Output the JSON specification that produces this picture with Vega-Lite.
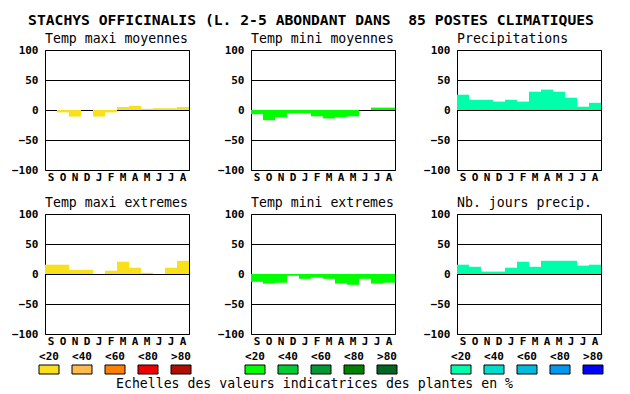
{
  "$schema": "https://vega.github.io/schema/vega-lite/v6.json",
  "padding": {"left": 11, "top": 12, "right": 5, "bottom": 4},
  "background": "white",
  "title": {"text": "STACHYS OFFICINALIS (L. 2-5 ABONDANT DANS\u00a0 85 POSTES CLIMATIQUES", "fontSize": 14.7, "fontWeight": "bold", "anchor": "middle", "frame": "bounds", "offset": 4, "dx": 1},
  "datasets": {
    "bars": [
      {"panel": "A", "month": "Sep", "value": 0}, {"panel": "A", "month": "Oct", "value": -4}, {"panel": "A", "month": "Nov", "value": -11}, {"panel": "A", "month": "Dec", "value": 0}, {"panel": "A", "month": "Jan", "value": -11}, {"panel": "A", "month": "Fev", "value": -4}, {"panel": "A", "month": "Mar", "value": 5}, {"panel": "A", "month": "Avr", "value": 7}, {"panel": "A", "month": "Mai", "value": 2}, {"panel": "A", "month": "Jun", "value": 3}, {"panel": "A", "month": "Jul", "value": 3}, {"panel": "A", "month": "Aou", "value": 5},
      {"panel": "B", "month": "Sep", "value": -7}, {"panel": "B", "month": "Oct", "value": -17}, {"panel": "B", "month": "Nov", "value": -12}, {"panel": "B", "month": "Dec", "value": -5.5}, {"panel": "B", "month": "Jan", "value": -5.5}, {"panel": "B", "month": "Fev", "value": -10.5}, {"panel": "B", "month": "Mar", "value": -14}, {"panel": "B", "month": "Avr", "value": -12}, {"panel": "B", "month": "Mai", "value": -10.5}, {"panel": "B", "month": "Jun", "value": 0}, {"panel": "B", "month": "Jul", "value": 4}, {"panel": "B", "month": "Aou", "value": 4},
      {"panel": "C", "month": "Sep", "value": 25.5}, {"panel": "C", "month": "Oct", "value": 17}, {"panel": "C", "month": "Nov", "value": 17}, {"panel": "C", "month": "Dec", "value": 14}, {"panel": "C", "month": "Jan", "value": 17}, {"panel": "C", "month": "Fev", "value": 14}, {"panel": "C", "month": "Mar", "value": 30.5}, {"panel": "C", "month": "Avr", "value": 34}, {"panel": "C", "month": "Mai", "value": 30.5}, {"panel": "C", "month": "Jun", "value": 20.5}, {"panel": "C", "month": "Jul", "value": 5.5}, {"panel": "C", "month": "Aou", "value": 12},
      {"panel": "D", "month": "Sep", "value": 15.5}, {"panel": "D", "month": "Oct", "value": 15.5}, {"panel": "D", "month": "Nov", "value": 7}, {"panel": "D", "month": "Dec", "value": 7}, {"panel": "D", "month": "Jan", "value": 0}, {"panel": "D", "month": "Fev", "value": 5.5}, {"panel": "D", "month": "Mar", "value": 20.5}, {"panel": "D", "month": "Avr", "value": 10.5}, {"panel": "D", "month": "Mai", "value": 2}, {"panel": "D", "month": "Jun", "value": 0}, {"panel": "D", "month": "Jul", "value": 10.5}, {"panel": "D", "month": "Aou", "value": 22},
      {"panel": "E", "month": "Sep", "value": -13}, {"panel": "E", "month": "Oct", "value": -16}, {"panel": "E", "month": "Nov", "value": -14.5}, {"panel": "E", "month": "Dec", "value": -3}, {"panel": "E", "month": "Jan", "value": -8}, {"panel": "E", "month": "Fev", "value": -6}, {"panel": "E", "month": "Mar", "value": -8}, {"panel": "E", "month": "Avr", "value": -16}, {"panel": "E", "month": "Mai", "value": -18}, {"panel": "E", "month": "Jun", "value": -8}, {"panel": "E", "month": "Jul", "value": -16}, {"panel": "E", "month": "Aou", "value": -14.5},
      {"panel": "F", "month": "Sep", "value": 15.5}, {"panel": "F", "month": "Oct", "value": 12}, {"panel": "F", "month": "Nov", "value": 4}, {"panel": "F", "month": "Dec", "value": 4}, {"panel": "F", "month": "Jan", "value": 10.5}, {"panel": "F", "month": "Fev", "value": 20.5}, {"panel": "F", "month": "Mar", "value": 12}, {"panel": "F", "month": "Avr", "value": 22}, {"panel": "F", "month": "Mai", "value": 22}, {"panel": "F", "month": "Jun", "value": 22}, {"panel": "F", "month": "Jul", "value": 14}, {"panel": "F", "month": "Aou", "value": 15.5}
    ],
    "legend": [{"c": "<20"}, {"c": "<40"}, {"c": "<60"}, {"c": "<80"}, {"c": ">80"}]
  },
  "vconcat": [
    {
      "columns": 3,
      "bounds": "flush",
      "spacing": {"row": 44, "column": 62},
      "concat": [
        {"title": "Temp maxi moyennes", "data": {"name": "bars"}, "transform": [{"filter": "datum.panel === 'A'"}], "width": 144, "height": 120, "mark": {"type": "bar", "color": "#F8E01B"},
         "encoding": {"x": {"field": "month", "type": "ordinal", "sort": ["Sep","Oct","Nov","Dec","Jan","Fev","Mar","Avr","Mai","Jun","Jul","Aou"], "scale": {"paddingInner": 0, "paddingOuter": 0}, "axis": {"title": null, "labelExpr": "substring(datum.value, 0, 1)"}},
                      "y": {"field": "value", "type": "quantitative", "scale": {"domain": [-100, 100], "nice": false}, "axis": {"title": null, "values": [-100, -50, 0, 50, 100]}}}},
        {"title": "Temp mini moyennes", "data": {"name": "bars"}, "transform": [{"filter": "datum.panel === 'B'"}], "width": 144, "height": 120, "mark": {"type": "bar", "color": "#00FF00"},
         "encoding": {"x": {"field": "month", "type": "ordinal", "sort": ["Sep","Oct","Nov","Dec","Jan","Fev","Mar","Avr","Mai","Jun","Jul","Aou"], "scale": {"paddingInner": 0, "paddingOuter": 0}, "axis": {"title": null, "labelExpr": "substring(datum.value, 0, 1)"}},
                      "y": {"field": "value", "type": "quantitative", "scale": {"domain": [-100, 100], "nice": false}, "axis": {"title": null, "values": [-100, -50, 0, 50, 100]}}}},
        {"title": "Precipitations", "data": {"name": "bars"}, "transform": [{"filter": "datum.panel === 'C'"}], "width": 144, "height": 120, "mark": {"type": "bar", "color": "#00FFAA"},
         "encoding": {"x": {"field": "month", "type": "ordinal", "sort": ["Sep","Oct","Nov","Dec","Jan","Fev","Mar","Avr","Mai","Jun","Jul","Aou"], "scale": {"paddingInner": 0, "paddingOuter": 0}, "axis": {"title": null, "labelExpr": "substring(datum.value, 0, 1)"}},
                      "y": {"field": "value", "type": "quantitative", "scale": {"domain": [-100, 100], "nice": false}, "axis": {"title": null, "values": [-100, -50, 0, 50, 100]}}}},
        {"title": "Temp maxi extremes", "data": {"name": "bars"}, "transform": [{"filter": "datum.panel === 'D'"}], "width": 144, "height": 120, "mark": {"type": "bar", "color": "#F8E01B"},
         "encoding": {"x": {"field": "month", "type": "ordinal", "sort": ["Sep","Oct","Nov","Dec","Jan","Fev","Mar","Avr","Mai","Jun","Jul","Aou"], "scale": {"paddingInner": 0, "paddingOuter": 0}, "axis": {"title": null, "labelExpr": "substring(datum.value, 0, 1)"}},
                      "y": {"field": "value", "type": "quantitative", "scale": {"domain": [-100, 100], "nice": false}, "axis": {"title": null, "values": [-100, -50, 0, 50, 100]}}}},
        {"title": "Temp mini extremes", "data": {"name": "bars"}, "transform": [{"filter": "datum.panel === 'E'"}], "width": 144, "height": 120, "mark": {"type": "bar", "color": "#00FF00"},
         "encoding": {"x": {"field": "month", "type": "ordinal", "sort": ["Sep","Oct","Nov","Dec","Jan","Fev","Mar","Avr","Mai","Jun","Jul","Aou"], "scale": {"paddingInner": 0, "paddingOuter": 0}, "axis": {"title": null, "labelExpr": "substring(datum.value, 0, 1)"}},
                      "y": {"field": "value", "type": "quantitative", "scale": {"domain": [-100, 100], "nice": false}, "axis": {"title": null, "values": [-100, -50, 0, 50, 100]}}}},
        {"title": "Nb. jours precip.", "data": {"name": "bars"}, "transform": [{"filter": "datum.panel === 'F'"}], "width": 144, "height": 120, "mark": {"type": "bar", "color": "#00FFAA"},
         "encoding": {"x": {"field": "month", "type": "ordinal", "sort": ["Sep","Oct","Nov","Dec","Jan","Fev","Mar","Avr","Mai","Jun","Jul","Aou"], "scale": {"paddingInner": 0, "paddingOuter": 0}, "axis": {"title": null, "labelExpr": "substring(datum.value, 0, 1)"}},
                      "y": {"field": "value", "type": "quantitative", "scale": {"domain": [-100, 100], "nice": false}, "axis": {"title": null, "values": [-100, -50, 0, 50, 100]}}}}
      ]
    },
    {
      "bounds": "flush",
      "spacing": 62,
      "resolve": {"scale": {"color": "independent"}},
      "hconcat": [
        {"data": {"name": "legend"}, "width": 144, "height": 9, "view": {"stroke": null}, "mark": {"type": "rect", "stroke": "black", "strokeWidth": 1},
         "encoding": {"x": {"field": "c", "type": "ordinal", "sort": ["<20","<40","<60","<80",">80"], "scale": {"range": [-6, 146], "paddingInner": 0.394, "paddingOuter": 0}, "axis": {"orient": "top", "title": null, "labelPadding": 4, "grid": false}},
                      "color": {"field": "c", "type": "ordinal", "scale": {"domain": ["<20","<40","<60","<80",">80"], "range": ["#F8E01B", "#FFBB50", "#FF8000", "#EE0000", "#B00E00"]}, "legend": null}}},
        {"data": {"name": "legend"}, "width": 144, "height": 9, "view": {"stroke": null}, "mark": {"type": "rect", "stroke": "black", "strokeWidth": 1},
         "title": {"text": "Echelles des valeurs indicatrices des plantes en %", "orient": "bottom", "anchor": "middle", "frame": "group", "offset": 3.5, "dx": -8.5},
         "encoding": {"x": {"field": "c", "type": "ordinal", "sort": ["<20","<40","<60","<80",">80"], "scale": {"range": [-6, 146], "paddingInner": 0.394, "paddingOuter": 0}, "axis": {"orient": "top", "title": null, "labelPadding": 4, "grid": false}},
                      "color": {"field": "c", "type": "ordinal", "scale": {"domain": ["<20","<40","<60","<80",">80"], "range": ["#00FF00", "#00CC33", "#009933", "#008000", "#006622"]}, "legend": null}}},
        {"data": {"name": "legend"}, "width": 144, "height": 9, "view": {"stroke": null}, "mark": {"type": "rect", "stroke": "black", "strokeWidth": 1},
         "encoding": {"x": {"field": "c", "type": "ordinal", "sort": ["<20","<40","<60","<80",">80"], "scale": {"range": [-6, 146], "paddingInner": 0.394, "paddingOuter": 0}, "axis": {"orient": "top", "title": null, "labelPadding": 4, "grid": false}},
                      "color": {"field": "c", "type": "ordinal", "scale": {"domain": ["<20","<40","<60","<80",">80"], "range": ["#00FFAA", "#00DDCC", "#00BBDD", "#0099EE", "#0000FF"]}, "legend": null}}}
      ]
    }
  ],
  "spacing": 3,
  "config": {
    "font": "DejaVu Sans Mono",
    "view": {"stroke": "black", "strokeWidth": 1},
    "axis": {"labelFont": "DejaVu Sans Mono", "labelFontWeight": "bold", "labelFontSize": 11, "labelColor": "black", "ticks": false, "domain": false, "labelAngle": 0},
    "axisX": {"labelPadding": 1.5, "grid": false},
    "axisY": {"labelPadding": 7, "grid": true, "gridColor": "black", "gridOpacity": 1, "gridWidth": 1, "zindex": 1},
    "title": {"font": "DejaVu Sans Mono", "fontWeight": "normal", "fontSize": 13.2, "color": "black", "anchor": "start", "frame": "group", "baseline": "alphabetic", "offset": -2}
  }
}
